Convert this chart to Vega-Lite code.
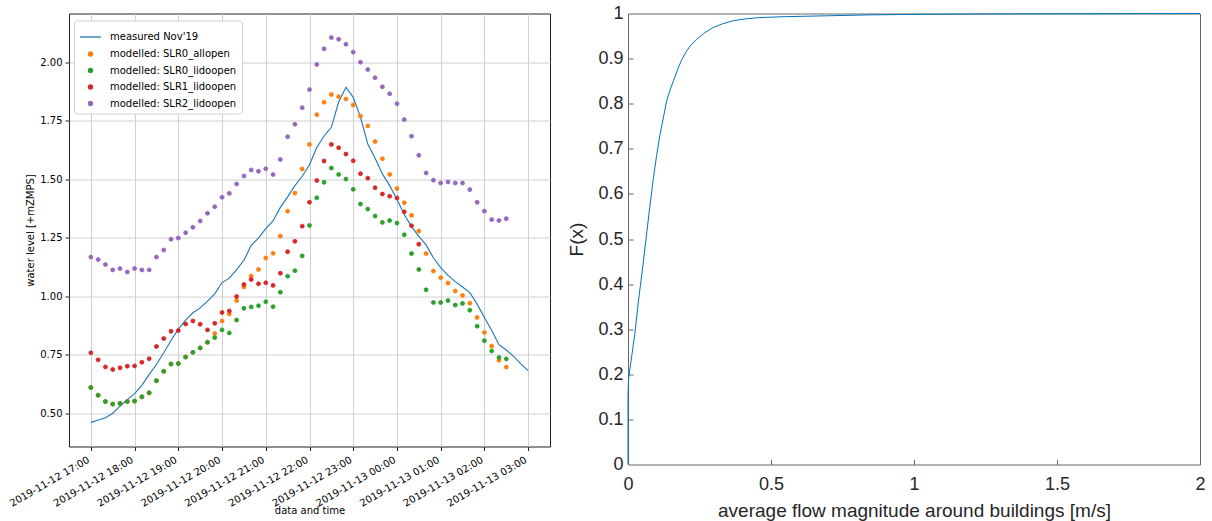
{
  "$schema": "https://vega.github.io/schema/vega-lite/v6.json",
  "background": "white",
  "padding": {"left": 7, "top": 3.5, "right": 0, "bottom": 0},
  "spacing": 16,
  "config": {
    "view": {"stroke": null},
    "legend": {"rowPadding": 6.5}
  },
  "datasets": {
    "ts": [
      {"t": "2019-11-12T17:00", "m": 0.462, "a": 0.611, "g": 0.611, "r": 0.759, "p": 1.168},
      {"t": "2019-11-12T17:10", "m": 0.472, "a": 0.578, "g": 0.578, "r": 0.729, "p": 1.157},
      {"t": "2019-11-12T17:20", "m": 0.482, "a": 0.551, "g": 0.551, "r": 0.699, "p": 1.136},
      {"t": "2019-11-12T17:30", "m": 0.501, "a": 0.540, "g": 0.540, "r": 0.688, "p": 1.113},
      {"t": "2019-11-12T17:40", "m": 0.531, "a": 0.543, "g": 0.543, "r": 0.695, "p": 1.119},
      {"t": "2019-11-12T17:50", "m": 0.559, "a": 0.551, "g": 0.551, "r": 0.702, "p": 1.104},
      {"t": "2019-11-12T18:00", "m": 0.585, "a": 0.553, "g": 0.553, "r": 0.703, "p": 1.119},
      {"t": "2019-11-12T18:10", "m": 0.620, "a": 0.571, "g": 0.571, "r": 0.719, "p": 1.113},
      {"t": "2019-11-12T18:20", "m": 0.667, "a": 0.588, "g": 0.588, "r": 0.734, "p": 1.113},
      {"t": "2019-11-12T18:30", "m": 0.709, "a": 0.640, "g": 0.640, "r": 0.786, "p": 1.168},
      {"t": "2019-11-12T18:40", "m": 0.759, "a": 0.680, "g": 0.680, "r": 0.820, "p": 1.198},
      {"t": "2019-11-12T18:50", "m": 0.812, "a": 0.711, "g": 0.711, "r": 0.851, "p": 1.244},
      {"t": "2019-11-12T19:00", "m": 0.860, "a": 0.713, "g": 0.713, "r": 0.854, "p": 1.249},
      {"t": "2019-11-12T19:10", "m": 0.899, "a": 0.741, "g": 0.741, "r": 0.882, "p": 1.272},
      {"t": "2019-11-12T19:20", "m": 0.930, "a": 0.761, "g": 0.761, "r": 0.895, "p": 1.295},
      {"t": "2019-11-12T19:30", "m": 0.951, "a": 0.780, "g": 0.780, "r": 0.881, "p": 1.322},
      {"t": "2019-11-12T19:40", "m": 0.980, "a": 0.804, "g": 0.804, "r": 0.857, "p": 1.355},
      {"t": "2019-11-12T19:50", "m": 1.011, "a": 0.841, "g": 0.824, "r": 0.885, "p": 1.383},
      {"t": "2019-11-12T20:00", "m": 1.059, "a": 0.895, "g": 0.857, "r": 0.931, "p": 1.423},
      {"t": "2019-11-12T20:10", "m": 1.078, "a": 0.925, "g": 0.844, "r": 0.938, "p": 1.440},
      {"t": "2019-11-12T20:20", "m": 1.114, "a": 0.982, "g": 0.899, "r": 0.999, "p": 1.480},
      {"t": "2019-11-12T20:30", "m": 1.154, "a": 1.040, "g": 0.949, "r": 1.051, "p": 1.514},
      {"t": "2019-11-12T20:40", "m": 1.218, "a": 1.087, "g": 0.955, "r": 1.072, "p": 1.540},
      {"t": "2019-11-12T20:50", "m": 1.249, "a": 1.115, "g": 0.960, "r": 1.054, "p": 1.534},
      {"t": "2019-11-12T21:00", "m": 1.289, "a": 1.164, "g": 0.977, "r": 1.058, "p": 1.545},
      {"t": "2019-11-12T21:10", "m": 1.322, "a": 1.184, "g": 0.956, "r": 1.047, "p": 1.520},
      {"t": "2019-11-12T21:20", "m": 1.380, "a": 1.257, "g": 1.018, "r": 1.099, "p": 1.585},
      {"t": "2019-11-12T21:30", "m": 1.425, "a": 1.364, "g": 1.086, "r": 1.191, "p": 1.682},
      {"t": "2019-11-12T21:40", "m": 1.473, "a": 1.441, "g": 1.110, "r": 1.235, "p": 1.735},
      {"t": "2019-11-12T21:50", "m": 1.513, "a": 1.544, "g": 1.173, "r": 1.300, "p": 1.806},
      {"t": "2019-11-12T22:00", "m": 1.562, "a": 1.649, "g": 1.303, "r": 1.402, "p": 1.883},
      {"t": "2019-11-12T22:10", "m": 1.636, "a": 1.776, "g": 1.421, "r": 1.495, "p": 1.990},
      {"t": "2019-11-12T22:20", "m": 1.685, "a": 1.829, "g": 1.487, "r": 1.578, "p": 2.057},
      {"t": "2019-11-12T22:30", "m": 1.722, "a": 1.862, "g": 1.548, "r": 1.649, "p": 2.105},
      {"t": "2019-11-12T22:40", "m": 1.830, "a": 1.853, "g": 1.521, "r": 1.635, "p": 2.098},
      {"t": "2019-11-12T22:50", "m": 1.893, "a": 1.843, "g": 1.501, "r": 1.608, "p": 2.077},
      {"t": "2019-11-12T23:00", "m": 1.850, "a": 1.817, "g": 1.457, "r": 1.579, "p": 2.043},
      {"t": "2019-11-12T23:10", "m": 1.765, "a": 1.770, "g": 1.394, "r": 1.524, "p": 2.000},
      {"t": "2019-11-12T23:20", "m": 1.651, "a": 1.728, "g": 1.373, "r": 1.505, "p": 1.969},
      {"t": "2019-11-12T23:30", "m": 1.590, "a": 1.661, "g": 1.343, "r": 1.464, "p": 1.934},
      {"t": "2019-11-12T23:40", "m": 1.523, "a": 1.588, "g": 1.316, "r": 1.437, "p": 1.895},
      {"t": "2019-11-12T23:50", "m": 1.473, "a": 1.521, "g": 1.324, "r": 1.428, "p": 1.865},
      {"t": "2019-11-13T00:00", "m": 1.415, "a": 1.461, "g": 1.313, "r": 1.420, "p": 1.823},
      {"t": "2019-11-13T00:10", "m": 1.350, "a": 1.400, "g": 1.263, "r": 1.361, "p": 1.755},
      {"t": "2019-11-13T00:20", "m": 1.298, "a": 1.346, "g": 1.183, "r": 1.302, "p": 1.684},
      {"t": "2019-11-13T00:30", "m": 1.256, "a": 1.279, "g": 1.115, "r": 1.223, "p": 1.603},
      {"t": "2019-11-13T00:40", "m": 1.220, "a": 1.183, "g": 1.028, "p": 1.527},
      {"t": "2019-11-13T00:50", "m": 1.165, "a": 1.108, "g": 0.974, "p": 1.496},
      {"t": "2019-11-13T01:00", "m": 1.123, "a": 1.080, "g": 0.974, "p": 1.484},
      {"t": "2019-11-13T01:10", "m": 1.090, "a": 1.057, "g": 0.982, "p": 1.489},
      {"t": "2019-11-13T01:20", "m": 1.063, "a": 1.023, "g": 0.963, "p": 1.484},
      {"t": "2019-11-13T01:30", "m": 1.040, "a": 1.004, "g": 0.970, "p": 1.484},
      {"t": "2019-11-13T01:40", "m": 1.016, "a": 0.971, "g": 0.941, "p": 1.456},
      {"t": "2019-11-13T01:50", "m": 0.967, "a": 0.910, "g": 0.873, "p": 1.402},
      {"t": "2019-11-13T02:00", "m": 0.910, "a": 0.846, "g": 0.811, "p": 1.364},
      {"t": "2019-11-13T02:10", "m": 0.854, "a": 0.788, "g": 0.767, "p": 1.328},
      {"t": "2019-11-13T02:20", "m": 0.794, "a": 0.727, "g": 0.739, "p": 1.324},
      {"t": "2019-11-13T02:30", "m": 0.771, "a": 0.698, "g": 0.733, "p": 1.332},
      {"t": "2019-11-13T02:40", "m": 0.744},
      {"t": "2019-11-13T02:50", "m": 0.712},
      {"t": "2019-11-13T03:00", "m": 0.683}
    ],
    "cdf": [
      {"x": 0, "y": 0},
      {"x": 0, "y": 0.15},
      {"x": 0.002, "y": 0.19},
      {"x": 0.013, "y": 0.24},
      {"x": 0.024, "y": 0.29},
      {"x": 0.036, "y": 0.36},
      {"x": 0.05, "y": 0.43},
      {"x": 0.063, "y": 0.50},
      {"x": 0.076, "y": 0.57},
      {"x": 0.089, "y": 0.636},
      {"x": 0.1, "y": 0.685},
      {"x": 0.112, "y": 0.732},
      {"x": 0.124, "y": 0.77},
      {"x": 0.135, "y": 0.806},
      {"x": 0.147, "y": 0.83},
      {"x": 0.159, "y": 0.851},
      {"x": 0.176, "y": 0.88},
      {"x": 0.19, "y": 0.9},
      {"x": 0.205, "y": 0.917},
      {"x": 0.22, "y": 0.93},
      {"x": 0.24, "y": 0.943},
      {"x": 0.27, "y": 0.958},
      {"x": 0.298, "y": 0.969},
      {"x": 0.33, "y": 0.977},
      {"x": 0.368, "y": 0.984},
      {"x": 0.41, "y": 0.988},
      {"x": 0.461, "y": 0.991},
      {"x": 0.55, "y": 0.993},
      {"x": 0.7, "y": 0.995},
      {"x": 0.85, "y": 0.997},
      {"x": 1.0, "y": 0.998},
      {"x": 1.25, "y": 0.999},
      {"x": 1.5, "y": 0.9995},
      {"x": 2.0, "y": 1.0}
    ]
  },
  "hconcat": [
    {
      "width": 481,
      "height": 433,
      "view": {"stroke": "#222", "strokeWidth": 1},
      "layer": [
        {
          "data": {"name": "ts"},
          "mark": {"type": "line", "strokeWidth": 1.1, "color": "#1f77b4"},
          "encoding": {
            "x": {
              "field": "t", "type": "temporal",
              "scale": {"domain": [{"year": 2019, "month": 11, "date": 12, "hours": 16, "minutes": 30}, {"year": 2019, "month": 11, "date": 13, "hours": 3, "minutes": 30}], "nice": false},
              "axis": {
                "title": "data and time", "format": "%Y-%m-%d %H:%M",
                "values": [
                  {"year": 2019, "month": 11, "date": 12, "hours": 17},
                  {"year": 2019, "month": 11, "date": 12, "hours": 18},
                  {"year": 2019, "month": 11, "date": 12, "hours": 19},
                  {"year": 2019, "month": 11, "date": 12, "hours": 20},
                  {"year": 2019, "month": 11, "date": 12, "hours": 21},
                  {"year": 2019, "month": 11, "date": 12, "hours": 22},
                  {"year": 2019, "month": 11, "date": 12, "hours": 23},
                  {"year": 2019, "month": 11, "date": 13, "hours": 0},
                  {"year": 2019, "month": 11, "date": 13, "hours": 1},
                  {"year": 2019, "month": 11, "date": 13, "hours": 2},
                  {"year": 2019, "month": 11, "date": 13, "hours": 3}
                ],
                "labelAngle": -30, "labelAlign": "right", "labelBaseline": "top", "labelOffset": -5,
                "labelFont": "DejaVu Sans", "labelFontSize": 10, "labelColor": "#000",
                "labelPadding": 4, "labelOverlap": false, "labelFlush": false,
                "tickSize": 4, "tickColor": "#222", "domain": false,
                "grid": true, "gridColor": "#d0d0d0", "gridWidth": 1,
                "titleFont": "DejaVu Sans", "titleFontSize": 10, "titleFontWeight": "normal", "titleColor": "#000", "titlePadding": -3
              }
            },
            "y": {
              "field": "m", "type": "quantitative",
              "scale": {"domain": [0.359, 2.208], "nice": false, "zero": false},
              "axis": {
                "title": "water level [+mZMPS]", "values": [0.5, 0.75, 1.0, 1.25, 1.5, 1.75, 2.0], "format": ".2f",
                "labelFont": "DejaVu Sans", "labelFontSize": 10, "labelColor": "#000", "labelPadding": 3,
                "tickSize": 4, "tickColor": "#222", "domain": false,
                "grid": true, "gridColor": "#d0d0d0", "gridWidth": 1,
                "titleFont": "DejaVu Sans", "titleFontSize": 10, "titleFontWeight": "normal", "titleColor": "#000", "titlePadding": 4
              }
            }
          }
        },
        {
          "data": {"name": "ts"},
          "transform": [
            {"fold": ["a", "g", "r", "p"], "as": ["series", "v"]},
            {"filter": {"field": "v", "valid": true}}
          ],
          "mark": {"type": "point", "filled": true, "opacity": 1, "strokeWidth": 0.8},
          "encoding": {
            "x": {"field": "t", "type": "temporal"},
            "y": {"field": "v", "type": "quantitative"},
            "color": {
              "field": "series", "type": "nominal",
              "scale": {"domain": ["m", "a", "g", "r", "p"], "range": ["#1f77b4", "#ff7f0e", "#2ca02c", "#d62728", "#9467bd"]},
              "legend": {
                "title": null, "orient": "none", "legendX": 5, "legendY": 7, "padding": 5,
                "labelFont": "DejaVu Sans", "labelFontSize": 10, "labelColor": "#000", "labelOffset": 8,
                "rowPadding": 6.5, "symbolStrokeWidth": 1.3,
                "strokeColor": "#d0d0d0", "fillColor": "white", "cornerRadius": 3,
                "labelExpr": "datum.label == 'm' ? \"measured Nov'19\" : datum.label == 'a' ? 'modelled: SLR0_allopen' : datum.label == 'g' ? 'modelled: SLR0_lidoopen' : datum.label == 'r' ? 'modelled: SLR1_lidoopen' : 'modelled: SLR2_lidoopen'"
              }
            },
            "stroke": {
              "field": "series", "type": "nominal",
              "scale": {"domain": ["m", "a", "g", "r", "p"], "range": ["#1f77b4", "#ff7f0e", "#2ca02c", "#d62728", "#9467bd"]},
              "legend": {
                "title": null, "orient": "none", "legendX": 5, "legendY": 7, "padding": 5,
                "labelFont": "DejaVu Sans", "labelFontSize": 10, "labelColor": "#000", "labelOffset": 8,
                "rowPadding": 6.5, "symbolStrokeWidth": 1.3,
                "strokeColor": "#d0d0d0", "fillColor": "white", "cornerRadius": 3,
                "labelExpr": "datum.label == 'm' ? \"measured Nov'19\" : datum.label == 'a' ? 'modelled: SLR0_allopen' : datum.label == 'g' ? 'modelled: SLR0_lidoopen' : datum.label == 'r' ? 'modelled: SLR1_lidoopen' : 'modelled: SLR2_lidoopen'"
              }
            },
            "shape": {
              "field": "series", "type": "nominal",
              "scale": {"domain": ["m", "a", "g", "r", "p"], "range": ["stroke", "circle", "circle", "circle", "circle"]},
              "legend": {
                "title": null, "orient": "none", "legendX": 5, "legendY": 7, "padding": 5,
                "labelFont": "DejaVu Sans", "labelFontSize": 10, "labelColor": "#000", "labelOffset": 8,
                "rowPadding": 6.5, "symbolStrokeWidth": 1.3,
                "strokeColor": "#d0d0d0", "fillColor": "white", "cornerRadius": 3,
                "labelExpr": "datum.label == 'm' ? \"measured Nov'19\" : datum.label == 'a' ? 'modelled: SLR0_allopen' : datum.label == 'g' ? 'modelled: SLR0_lidoopen' : datum.label == 'r' ? 'modelled: SLR1_lidoopen' : 'modelled: SLR2_lidoopen'"
              }
            },
            "size": {
              "field": "series", "type": "nominal",
              "scale": {"type": "ordinal", "domain": ["m", "a", "g", "r", "p"], "range": [441, 16, 16, 16, 16]},
              "legend": {
                "title": null, "orient": "none", "legendX": 5, "legendY": 7, "padding": 5,
                "labelFont": "DejaVu Sans", "labelFontSize": 10, "labelColor": "#000", "labelOffset": 8,
                "rowPadding": 6.5, "symbolStrokeWidth": 1.3,
                "strokeColor": "#d0d0d0", "fillColor": "white", "cornerRadius": 3,
                "labelExpr": "datum.label == 'm' ? \"measured Nov'19\" : datum.label == 'a' ? 'modelled: SLR0_allopen' : datum.label == 'g' ? 'modelled: SLR0_lidoopen' : datum.label == 'r' ? 'modelled: SLR1_lidoopen' : 'modelled: SLR2_lidoopen'"
              }
            }
          }
        }
      ]
    },
    {
      "width": 572,
      "height": 451,
      "view": {"stroke": "#666", "strokeWidth": 1},
      "data": {"name": "cdf"},
      "resolve": {"axis": {"x": "independent", "y": "independent"}},
      "layer": [
        {
          "mark": {"type": "line", "color": "#0072BD", "strokeWidth": 1},
          "encoding": {
            "x": {
              "field": "x", "type": "quantitative",
              "scale": {"domain": [0, 2], "nice": false, "zero": false},
              "axis": {
                "title": "average flow magnitude around buildings [m/s]",
                "values": [0, 0.5, 1, 1.5, 2], "format": "~g",
                "grid": false, "domain": false, "tickSize": 0,
                "labelFont": "Liberation Sans", "labelFontSize": 18, "labelColor": "#262626",
                "labelPadding": 11, "labelFlush": false, "labelOverlap": false,
                "titleFont": "Liberation Sans", "titleFontSize": 19, "titleFontWeight": "normal", "titleColor": "#262626", "titlePadding": 8
              }
            },
            "y": {
              "field": "y", "type": "quantitative",
              "scale": {"domain": [0, 1], "nice": false, "zero": false},
              "axis": {
                "title": "F(x)",
                "values": [0, 0.1, 0.2, 0.3, 0.4, 0.5, 0.6, 0.7, 0.8, 0.9, 1], "format": "~g",
                "grid": false, "domain": false, "tickSize": 0,
                "labelFont": "Liberation Sans", "labelFontSize": 18, "labelColor": "#262626",
                "labelPadding": 5, "labelFlush": false, "labelOverlap": false,
                "titleFont": "Liberation Sans", "titleFontSize": 19, "titleFontWeight": "normal", "titleColor": "#262626", "titlePadding": 11
              }
            }
          }
        },
        {
          "mark": {"type": "line", "opacity": 0},
          "encoding": {
            "x": {
              "field": "x", "type": "quantitative",
              "axis": {
                "orient": "bottom", "offset": -5, "title": null, "labels": false,
                "values": [0.5, 1, 1.5], "grid": false, "domain": false,
                "tickSize": 5, "tickColor": "#666", "tickWidth": 1
              }
            },
            "y": {
              "field": "y", "type": "quantitative",
              "axis": {
                "orient": "left", "offset": -5, "title": null, "labels": false,
                "values": [0.1, 0.2, 0.3, 0.4, 0.5, 0.6, 0.7, 0.8, 0.9], "grid": false, "domain": false,
                "tickSize": 5, "tickColor": "#666", "tickWidth": 1
              }
            }
          }
        }
      ]
    }
  ]
}
